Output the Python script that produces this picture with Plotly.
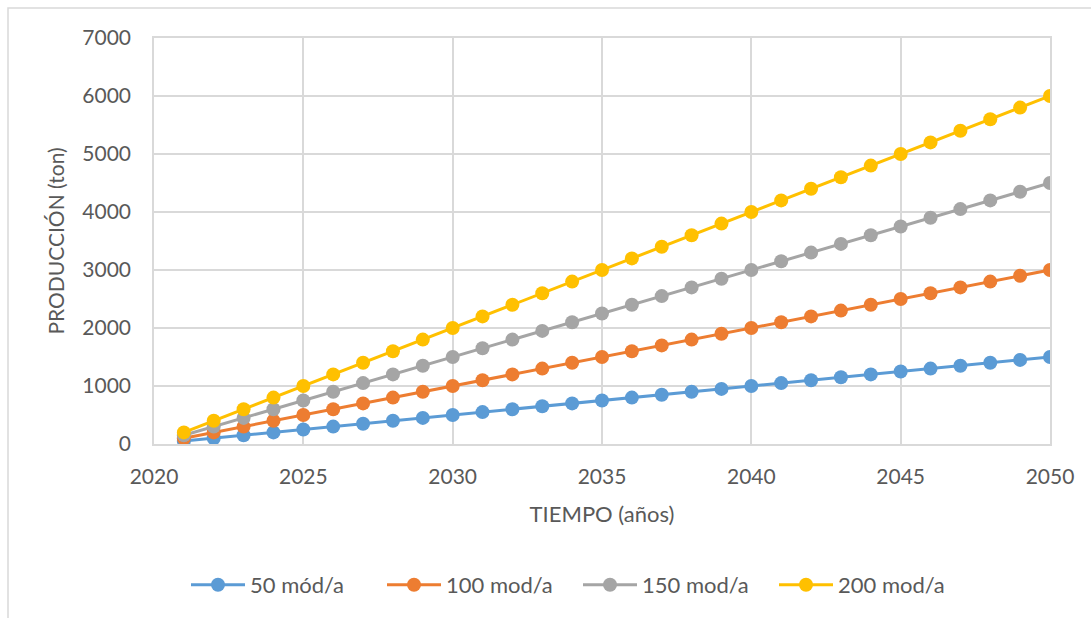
import plotly.graph_objects as go

years = [2021, 2022, 2023, 2024, 2025, 2026, 2027, 2028, 2029, 2030,
         2031, 2032, 2033, 2034, 2035, 2036, 2037, 2038, 2039, 2040,
         2041, 2042, 2043, 2044, 2045, 2046, 2047, 2048, 2049, 2050]
s50 = [50, 100, 150, 200, 250, 300, 350, 400, 450, 500,
       550, 600, 650, 700, 750, 800, 850, 900, 950, 1000,
       1050, 1100, 1150, 1200, 1250, 1300, 1350, 1400, 1450, 1500]
s100 = [100, 200, 300, 400, 500, 600, 700, 800, 900, 1000,
        1100, 1200, 1300, 1400, 1500, 1600, 1700, 1800, 1900, 2000,
        2100, 2200, 2300, 2400, 2500, 2600, 2700, 2800, 2900, 3000]
s150 = [150, 300, 450, 600, 750, 900, 1050, 1200, 1350, 1500,
        1650, 1800, 1950, 2100, 2250, 2400, 2550, 2700, 2850, 3000,
        3150, 3300, 3450, 3600, 3750, 3900, 4050, 4200, 4350, 4500]
s200 = [200, 400, 600, 800, 1000, 1200, 1400, 1600, 1800, 2000,
        2200, 2400, 2600, 2800, 3000, 3200, 3400, 3600, 3800, 4000,
        4200, 4400, 4600, 4800, 5000, 5200, 5400, 5600, 5800, 6000]
names = ["50 mód/a", "100 mod/a", "150 mod/a", "200 mod/a"]
colors = ["#5B9BD5", "#ED7D31", "#A5A5A5", "#FFC000"]

FONT = "Lato, 'Open Sans', sans-serif"
fig = go.Figure()
for name, vals, col in zip(names, [s50, s100, s150, s200], colors):
    fig.add_trace(go.Scatter(
        x=years, y=vals, name=name, mode="lines+markers",
        line=dict(color=col, width=3),
        marker=dict(color=col, size=14),
    ))

W, H = 1091, 618
L, R, T, B = 154, 41, 38, 174
pw, ph = W - L - R, H - T - B

def px(x):
    return (x - L) / pw

def py(y):
    return (H - B - y) / ph

fig.update_layout(
    width=W, height=H,
    margin=dict(l=L, r=R, t=T, b=B),
    paper_bgcolor="white", plot_bgcolor="white",
    font=dict(family=FONT, color="#595959", size=21),
    showlegend=True,
    legend=dict(orientation="h", x=px(186), xanchor="left", y=py(585), yanchor="middle",
                font=dict(size=22, color="#595959"), itemwidth=54,
                entrywidth=127, entrywidthmode="pixels", tracegroupgap=0),
    xaxis=dict(range=[2020, 2050], dtick=5, tick0=2020, showgrid=True, gridcolor="#D9D9D9",
               gridwidth=1.5, zeroline=False, showline=True, linecolor="#D9D9D9", linewidth=1.5,
               mirror=True, ticks="", ticklabelstandoff=13,
               title=dict(text="TIEMPO (años)", font=dict(size=22, color="#595959"), standoff=20),
               tickfont=dict(size=21)),
    yaxis=dict(range=[0, 7000], dtick=1000, showgrid=True, gridcolor="#D9D9D9", gridwidth=1.5,
               zeroline=False, showline=True, linecolor="#D9D9D9", linewidth=1.5, mirror=True,
               ticks="", ticklabelstandoff=17,
               title=dict(text="PRODUCCIÓN (ton)", font=dict(size=21, color="#595959"), standoff=12),
               tickfont=dict(size=21)),
    shapes=[
        dict(type="rect", xref="paper", yref="paper", x0=px(8), y0=py(625), x1=px(1100), y1=py(8),
             line=dict(color="#D9D9D9", width=1.5), fillcolor="rgba(0,0,0,0)", layer="below"),
    ],
)

fig.write_html("out.html")
